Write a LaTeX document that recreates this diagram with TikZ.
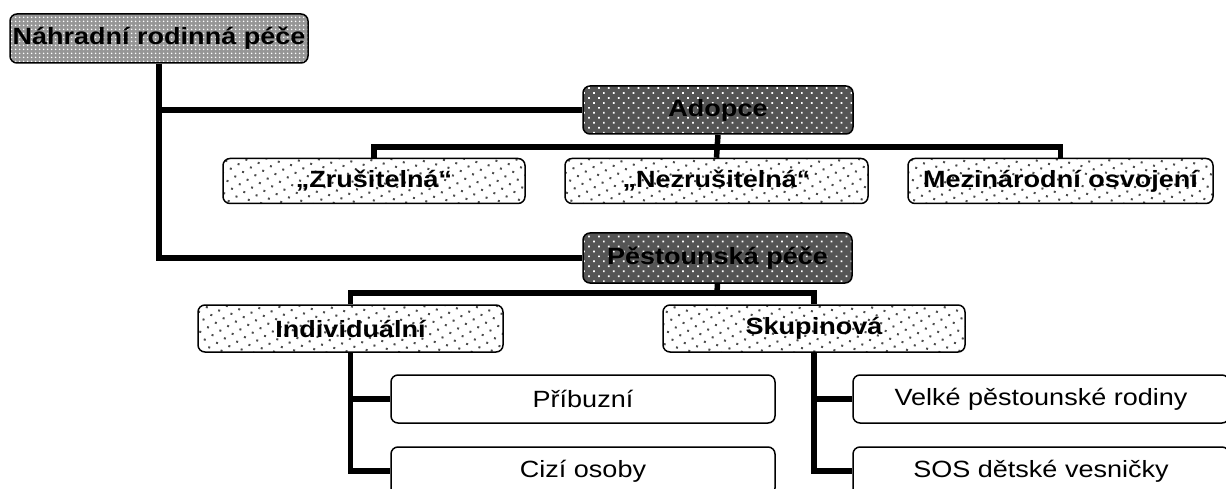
\documentclass[tikz,border=0pt]{standalone}
\usepackage{fontspec}
\setmainfont{Liberation Sans}[FakeStretch=1.15]
\definecolor{rootgray}{RGB}{150,150,150}
\definecolor{maingray}{RGB}{85,85,85}
\usetikzlibrary{patterns.meta}

\tikzset{
  box/.style={draw, line width=1.5pt, rounded corners=7pt, inner sep=0pt, text=black},
  rootbox/.style={box, preaction={fill=rootgray}, pattern={Dots[distance=4pt, radius=1pt]}, pattern color=white, font=\bfseries\fontsize{23.5}{26}\selectfont},
  mainbox/.style={box, preaction={fill=maingray}, pattern={Dots[distance=7pt, angle=45, radius=1.2pt]}, pattern color=white, font=\bfseries\fontsize{23.5}{26}\selectfont},
  subbox/.style={box, preaction={fill=white}, pattern={Dots[distance=9pt, angle=30, radius=1.4pt]}, pattern color=black!70, font=\bfseries\fontsize{23.5}{26}\selectfont},
  leafbox/.style={box, fill=white, font=\fontsize{23.5}{26}\selectfont},
  conn/.style={line width=5.5pt}
}

\begin{document}
\begin{tikzpicture}[x=1pt, y=-1pt]
    \path[use as bounding box] (0,0) rectangle (1226,489);
    \clip (0,0) rectangle (1226,489);

    % Root and the two main kinds
    \node[rootbox, minimum width=298pt, minimum height=49pt] (root) at (159,38.5) {Náhradní rodinná péče};
    \node[mainbox, minimum width=270pt, minimum height=48pt] (adopce) at (718,110) {Adopce};
    \node[mainbox, minimum width=269pt, minimum height=50pt] (pest) at (717.5,258) {Pěstounská péče};

    % Adoption
    \node[subbox, minimum width=302pt, minimum height=45pt] (zrus) at (374,181) {„Zrušitelná“};
    \node[subbox, minimum width=303pt, minimum height=45pt] (nezrus) at (716.5,181) {„Nezrušitelná“};
    \node[subbox, minimum width=305pt, minimum height=45pt] (mezi) at (1060.5,181) {Mezinárodní osvojení};

    % Foster care
    \node[subbox, minimum width=305pt, minimum height=47pt] (ind) at (350.5,328.5) {Individuální};
    \node[subbox, minimum width=302pt, minimum height=47pt] (skup) at (814,328.5) {Skupinová};

    \node[leafbox, minimum width=384pt, minimum height=48pt] (pribuz) at (583,399) {Příbuzní};
    \node[leafbox, minimum width=384pt, minimum height=48pt] (cizi) at (583,471) {Cizí osoby};
    \node[leafbox, minimum width=376pt, minimum height=48pt] (velke) at (1041,399) {Velké pěstounské rodiny};
    \node[leafbox, minimum width=376pt, minimum height=48pt] (sos) at (1041,471) {SOS dětské vesničky};

    % Connectors
    \coordinate (abus) at (717,147);
    \coordinate (pbus) at (717,293);
    \draw[conn] (root.south) |- (adopce.west);
    \draw[conn] (root.south) |- (pest.west);
    \draw[conn] (adopce.south) -- (nezrus.north);
    \draw[conn] (zrus.north) |- (abus) -| (mezi.north);
    \draw[conn] (pest.south) -- (pbus);
    \draw[conn] (ind.north) |- (pbus) -| (skup.north);
    \draw[conn] (ind.south) |- (pribuz.west);
    \draw[conn] (ind.south) |- (cizi.west);
    \draw[conn] (skup.south) |- (velke.west);
    \draw[conn] (skup.south) |- (sos.west);
\end{tikzpicture}
\end{document}
